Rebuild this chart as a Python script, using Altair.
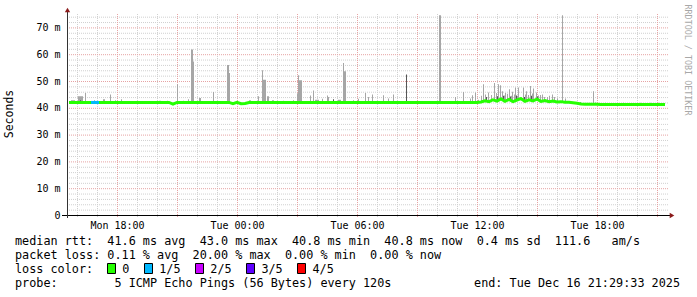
import altair as alt
import pandas as pd

FONT = "DejaVu Sans Mono"

# ---------------- data ----------------
# time is expressed in hours since Monday 00:00 (local graph time)
START_H = 15.5          # Mon 15:30
END_H = 45.5            # Tue 21:30
BIN_MIN = 12            # minutes per median sample
STEP_MIN = 3            # minutes per smoke sample

median_ms = [
    42.0, 42.0, 42.0, 42.0, 42.0, 42.0, 42.0, 42.0, 42.0, 42.0,
    42.0, 42.0, 42.0, 42.0, 42.0, 42.0, 42.0, 42.0, 42.0, 42.0,
    42.0, 42.0, 42.0, 42.0, 42.0, 42.0, 41.4, 42.0, 42.0, 42.0,
    42.0, 42.0, 42.0, 42.0, 42.0, 42.0, 42.0, 42.0, 42.0, 42.0,
    42.0, 41.5, 42.0, 41.5, 41.6, 42.0, 42.0, 42.0, 42.0, 42.0,
    42.0, 42.0, 42.0, 42.0, 42.0, 42.0, 42.0, 42.0, 42.0, 42.0,
    42.0, 42.0, 42.0, 42.0, 42.0, 42.0, 42.0, 42.0, 42.0, 42.0,
    42.0, 42.0, 42.0, 42.0, 42.0, 42.0, 42.0, 42.0, 42.0, 42.0,
    42.0, 42.0, 42.0, 42.0, 42.0, 42.0, 42.0, 42.0, 42.0, 42.0,
    42.0, 42.0, 42.0, 42.0, 42.0, 42.0, 42.0, 42.0, 42.0, 42.0,
    42.0, 42.0, 42.0, 42.2, 42.6, 42.3, 43.0, 42.5, 43.3, 42.4,
    43.1, 42.3, 42.9, 43.4, 42.4, 43.0, 42.6, 43.2, 42.4, 42.7,
    42.3, 42.5, 42.2, 42.3, 42.1, 42.1, 41.9, 41.7, 41.4, 41.3,
    41.3, 41.3, 41.3, 41.2, 41.2, 41.2, 41.2, 41.2, 41.2, 41.2,
    41.2, 41.2, 41.2, 41.2, 41.2, 41.2, 41.2, 41.2, 41.2, 41.2,
]

loss_start_min = [72, 84]
loss_level = [1, 1]

smoke_min = [
    12, 15, 18, 21, 33, 36, 39, 42, 45, 54, 81, 108, 111, 129, 144, 162,
    276, 279, 300, 330, 348, 363, 372, 375, 378, 396, 399, 438,
    480, 483, 486, 546, 549, 573, 585, 588, 591, 594, 600, 603, 615, 618,
    648, 678, 690, 693, 696, 699, 702, 729, 738, 744, 747, 750, 753, 765,
    780, 783, 813, 816, 819, 828, 831, 834, 858, 873, 894, 903, 915, 948,
    963, 978, 1116, 1119, 1164, 1188, 1209, 1215, 1224, 1233, 1242, 1248,
    1254, 1263, 1272, 1281, 1287, 1293, 1299, 1305, 1311, 1314, 1320, 1326,
    1332, 1335, 1341, 1344, 1350, 1353, 1359, 1368, 1374, 1377, 1383, 1389,
    1395, 1398, 1407, 1413, 1419, 1425, 1431, 1440, 1446, 1455, 1461, 1470,
    1485, 1494, 1539, 1578, 1584, 1614, 1668, 1719, 1749, 1773,
]
smoke_top = [
    42.8, 42.8, 42.8, 42.8, 44.3, 44.3, 44.3, 44.3, 44.3, 45.5, 42.8, 43.2, 43.2, 45.0, 42.8, 43.2,
    42.6, 42.6, 42.6, 48.8, 42.6, 43.2, 61.8, 61.8, 57.3, 43.7, 43.7, 45.9,
    56.0, 56.0, 53.0, 42.8, 42.8, 44.3, 54.0, 50.5, 50.5, 50.5, 44.3, 44.3, 42.8, 42.8,
    42.6, 42.8, 45.4, 52.1, 50.3, 50.3, 50.3, 44.6, 46.5, 43.0, 43.0, 43.0, 43.0, 43.4,
    44.6, 44.0, 43.0, 43.0, 43.0, 56.7, 53.6, 53.6, 42.8, 43.4, 45.5, 44.0, 45.0, 44.7,
    43.5, 45.0, 74.5, 74.5, 44.0, 45.9, 43.5, 44.7, 45.7, 43.0, 44.5, 48.8,
    45.0, 45.7, 44.8, 49.3, 45.5, 48.8, 48.4, 46.2, 44.6, 45.5, 45.2, 46.9,
    44.5, 46.0, 45.0, 47.6, 44.5, 47.6, 44.0, 47.6, 45.0, 46.2, 44.8, 48.1,
    45.3, 47.2, 45.7, 44.6, 44.8, 45.0, 44.0, 44.0, 44.5, 45.0, 44.0, 43.5,
    74.5, 43.5, 42.2, 46.2, 42.0, 41.9, 41.9, 41.9, 41.9, 41.9,
]

dark_min = [39, 798, 1017, 1257, 1290, 1308, 1329, 1347, 1371, 1392, 1410]
dark_top = [42.8, 43.2, 52.4, 44.0, 44.3, 44.5, 44.2, 44.6, 44.0, 44.5, 44.2]

# axis ticks / grid
x_label_values = [18, 24, 30, 36, 42]
x_label_texts = ["Mon 18:00", "Tue 00:00", "Tue 06:00", "Tue 12:00", "Tue 18:00"]
x_minor_grid = [16, 17, 19, 20, 22, 23, 25, 26, 28, 29, 31, 32, 34, 35, 37, 38, 40, 41, 43, 44]
x_major_grid = [18, 21, 24, 27, 30, 33, 36, 39, 42, 45]
y_minor_grid = [2, 4, 6, 8, 12, 14, 16, 18, 22, 24, 26, 28, 32, 34, 36, 38, 42, 44, 46, 48,
                52, 54, 56, 58, 62, 64, 66, 68, 72, 74]
y_major_grid = [10, 20, 30, 40, 50, 60, 70]
y_label_values = [0, 10, 20, 30, 40, 50, 60, 70]

loss_labels = ["0", "1/5", "2/5", "3/5", "4/5"]
loss_colors = ["#26ff00", "#00b8ff", "#c800ff", "#5e00ff", "#ff0000"]

legend_lines = [
    "median rtt:  41.6 ms avg  43.0 ms max  40.8 ms min  40.8 ms now  0.4 ms sd  111.6   am/s",
    "packet loss: 0.11 % avg  20.00 % max  0.00 % min  0.00 % now",
    "loss color:",
    "probe:        5 ICMP Echo Pings (56 Bytes) every 120s",
]
end_text = "end: Tue Dec 16 21:29:33 2025"
watermark = "RRDTOOL / TOBI OETIKER"
y_title = "Seconds"

# ---------------- frames ----------------
def h_at(m):
    return START_H + m / 60.0

def median_at(m):
    return median_ms[int(m // BIN_MIN)]

med_df = pd.DataFrame({
    "h": [h_at(BIN_MIN * i + BIN_MIN / 2) for i in range(len(median_ms))],
    "ms": median_ms,
})
smoke_df = pd.DataFrame({
    "h": [h_at(m) for m in smoke_min],
    "h2": [h_at(m + STEP_MIN) for m in smoke_min],
    "top": smoke_top,
    "bottom": [median_at(m) for m in smoke_min],
})
dark_df = pd.DataFrame({
    "h": [h_at(m) for m in dark_min],
    "h2": [h_at(m + STEP_MIN) for m in dark_min],
    "top": dark_top,
    "bottom": [median_at(m) for m in dark_min],
})
loss_df = pd.DataFrame({
    "h": [h_at(m) for m in loss_start_min],
    "h2": [h_at(m + BIN_MIN) for m in loss_start_min],
    "ms": [median_at(m) for m in loss_start_min],
    "level": [loss_labels[k] for k in loss_level],
})
one = pd.DataFrame({"k": [0]})

# ---------------- scales / axes ----------------
MAJOR = "#e6a3a3"
MINOR = "#d0d0d0"
xscale = alt.Scale(domain=[START_H, END_H], nice=False, zero=False)
yscale = alt.Scale(domain=[0, 75], nice=False, zero=True)

lab_arr = "[" + ",".join("'" + s + "'" for s in x_label_texts) + "]"
val_arr = "[" + ",".join(str(v) for v in x_label_values) + "]"
x_axis = alt.Axis(
    title=None, values=x_label_values,
    labelExpr=f"{lab_arr}[indexof({val_arr}, datum.value)]",
    grid=False, domain=False, ticks=False,
    labelFont=FONT, labelFontSize=10, labelColor="#000000", labelPadding=5,
    labelOverlap=False, labelFlush=False, labelBound=False,
)
y_axis = alt.Axis(
    title=None, values=y_label_values,
    labelExpr="datum.value == 0 ? '0\u00a0\u00a0' : datum.value + ' m'",
    grid=False, domain=False, ticks=False,
    labelFont=FONT, labelFontSize=10, labelColor="#000000", labelPadding=7,
    labelOverlap=False, labelBound=False,
)

def vgrid(values, color):
    return alt.Chart(pd.DataFrame({"g": values})).mark_rule(
        color=color, strokeWidth=1, strokeDash=[1, 1], xOffset=0.5
    ).encode(x=alt.X("g:Q", scale=xscale, axis=x_axis), y=alt.value(0), y2=alt.value(204))

def hgrid(values, color):
    return alt.Chart(pd.DataFrame({"g": values})).mark_rule(
        color=color, strokeWidth=1, strokeDash=[1, 1], yOffset=0.5
    ).encode(y=alt.Y("g:Q", scale=yscale, axis=y_axis), x=alt.value(0), x2=alt.value(601))

grid_layers = [
    vgrid(x_minor_grid, MINOR), hgrid(y_minor_grid, MINOR),
    vgrid(x_major_grid, MAJOR), hgrid(y_major_grid, MAJOR),
]

X = lambda f: alt.X(f, type="quantitative", scale=xscale, axis=x_axis)
Y = lambda f: alt.Y(f, type="quantitative", scale=yscale, axis=y_axis)

smoke = alt.Chart(smoke_df).mark_rect(color="#a6a6a6").encode(
    x=X("h"), x2="h2", y=Y("top"), y2="bottom")
dark = alt.Chart(dark_df).mark_rect(color="#555555").encode(
    x=X("h"), x2="h2", y=Y("top"), y2="bottom")
median = alt.Chart(med_df).mark_line(color="#26ff00", strokeWidth=3).encode(
    x=X("h"), y=Y("ms"))
loss = alt.Chart(loss_df).mark_rule(strokeWidth=3).encode(
    x=X("h"), x2="h2", y=Y("ms"),
    color=alt.Color("level:N", scale=alt.Scale(domain=loss_labels, range=loss_colors), legend=None),
)

# axis lines and arrows (frame decoration, pixels relative to plot origin)
x_line = alt.Chart(one).mark_rule(color="#000000", strokeWidth=1).encode(
    x=alt.value(-5), x2=alt.value(603), y=alt.value(201.5))
y_line = alt.Chart(one).mark_rule(color="#333333", strokeWidth=1).encode(
    x=alt.value(0.5), y=alt.value(-3), y2=alt.value(204))
x_arrow = alt.Chart(one).mark_point(shape="triangle-right", filled=True, size=28,
                                    color="#8b1a1a", opacity=1).encode(
    x=alt.value(605), y=alt.value(201.5))
y_arrow = alt.Chart(one).mark_point(shape="triangle-up", filled=True, size=28,
                                    color="#8b1a1a", opacity=1).encode(
    x=alt.value(0.5), y=alt.value(-4))

# texts
NB = "\u00a0"
LEG_SIZE = 11.8
CW = 7.1
LX = 15 - 67
base_y = [245 - 14, 259 - 14, 273 - 14, 287 - 14]

texts = []
for line, by in zip(legend_lines, base_y):
    texts.append(alt.Chart(one).mark_text(
        text=line.replace(" ", NB), font=FONT, fontSize=LEG_SIZE, align="left",
        baseline="alphabetic", color="#000000").encode(x=alt.value(LX), y=alt.value(by)))
texts.append(alt.Chart(one).mark_text(
    text=end_text.replace(" ", NB), font=FONT, fontSize=LEG_SIZE, align="right",
    baseline="alphabetic", color="#000000").encode(x=alt.value(680 - 67), y=alt.value(base_y[3])))

bx = LX + 13 * CW
for lab, col in zip(loss_labels, loss_colors):
    texts.append(alt.Chart(one).mark_rect(color=col, stroke="#000000", strokeWidth=1).encode(
        x=alt.value(round(bx) + 0.5), x2=alt.value(round(bx) + 8.5),
        y=alt.value(base_y[2] - 9.5), y2=alt.value(base_y[2] + 0.5)))
    texts.append(alt.Chart(one).mark_text(
        text=lab, font=FONT, fontSize=LEG_SIZE, align="left", baseline="alphabetic",
        color="#000000").encode(x=alt.value(bx + 15), y=alt.value(base_y[2])))
    bx += 15 + len(lab) * CW + 2 * CW + 0.6

texts.append(alt.Chart(one).mark_text(
    text=y_title, font=FONT, fontSize=11.5, angle=270, align="center", baseline="middle",
    color="#000000").encode(x=alt.value(10 - 67), y=alt.value(114 - 14)))
texts.append(alt.Chart(one).mark_text(
    text=watermark.replace(" ", NB), font=FONT, fontSize=8.4, angle=90, align="center",
    baseline="middle", color="#a8a8a8").encode(x=alt.value(688 - 67), y=alt.value(60 - 14)))

chart = alt.layer(*grid_layers, smoke, dark, median, loss, x_line, y_line, x_arrow, y_arrow,
                  *texts).properties(
    width=600, height=201,
    padding={"left": 67, "top": 14, "right": 30, "bottom": 82},
    autosize=alt.AutoSizeParams(type="none"),
    background="white",
).configure_view(stroke=None)

chart.save("out.html", embed_options={"renderer": "svg", "actions": False})
